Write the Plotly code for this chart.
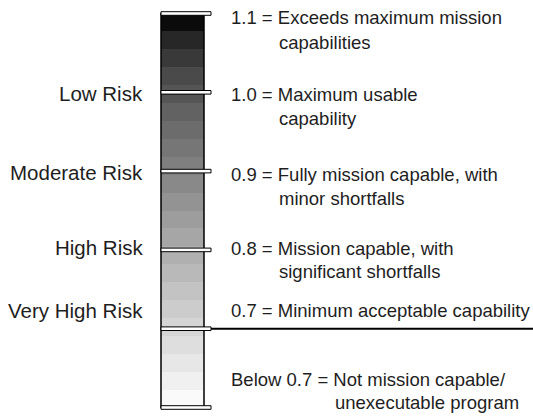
import plotly.graph_objects as go

# ---- data ----
levels = [1.1, 1.0, 0.9, 0.8, 0.7]
scale_bottom = 0.6
risk_labels = ["Low Risk", "Moderate Risk", "High Risk", "Very High Risk"]
level_text = [
    ("1.1 = ", "Exceeds maximum mission", "capabilities"),
    ("1.0 = ", "Maximum usable", "capability"),
    ("0.9 = ", "Fully mission capable, with", "minor shortfalls"),
    ("0.8 = ", "Mission capable, with", "significant shortfalls"),
    ("0.7 = ", "Minimum acceptable capability", None),
    ("Below 0.7 = ", "Not mission capable/", "unexecutable program"),
]
band_colors = [  # top to bottom
    "#0b0b0b", "#272727", "#393939", "#4a4a4a", "#555555", "#626262",
    "#6c6c6c", "#767676", "#7f7f7f", "#898989", "#939393", "#9d9d9d",
    "#a6a6a6", "#b0b0b0", "#b9b9b9", "#c3c3c3", "#cccccc", "#d5d5d5",
    "#dedede", "#e7e7e7", "#f0f0f0", "#fafafa",
]

# ---- layout constants ----
W, H = 533, 416
FONT = "Liberation Sans, Arial, Helvetica, sans-serif"
TXT = "#1e1e1e"
bar_x0, bar_x1, mark_x1 = 161, 204, 211
top_px, bot_px = 13.5, 407.5
span = (max(levels) - scale_bottom) * H / (bot_px - top_px)
ymax = max(levels) + top_px * (max(levels) - scale_bottom) / (bot_px - top_px)
ymin = ymax - span

n = len(band_colors)
h = (max(levels) - scale_bottom) / n
bases = [max(levels) - (i + 1) * h for i in range(n)]

fig = go.Figure()
fig.add_trace(go.Bar(
    x=[(bar_x0 + bar_x1) / 2] * n, y=[h] * n, base=bases,
    width=bar_x1 - bar_x0,
    marker=dict(color=band_colors, line=dict(width=0)),
    hoverinfo="skip", showlegend=False,
))

shapes = []
# bar outline
shapes.append(dict(type="rect", xref="x", yref="y", x0=bar_x0, x1=bar_x1,
                   y0=scale_bottom, y1=max(levels),
                   line=dict(color="black", width=1.5), fillcolor="rgba(0,0,0,0)"))
# 0.7 threshold line
shapes.append(dict(type="line", xref="x", yref="y", x0=mark_x1, x1=W,
                   y0=0.7, y1=0.7, line=dict(color="black", width=2)))
# level markers
dh = 1.8 * (ymax - ymin) / H
for v in levels + [scale_bottom]:
    shapes.append(dict(type="rect", xref="x", yref="y", x0=bar_x0, x1=mark_x1,
                       y0=v - dh, y1=v + dh,
                       line=dict(color="black", width=1), fillcolor="white"))

ann = []
def py(px):
    return 1 - px / H

left_y = [94, 172, 247, 310]
for lab, yy in zip(risk_labels, left_y):
    ann.append(dict(x=145, y=py(yy), xref="x", yref="paper", text=lab,
                    xanchor="right", yanchor="middle", showarrow=False,
                    font=dict(family=FONT, size=20.5, color=TXT)))

right_y = [(18, 43), (95, 118), (175, 198), (248, 271), (310, None), (379, 402)]
indent = [277, 277, 277, 277, 277, 333]
for (pre, l1, l2), (y1, y2), ind in zip(level_text, right_y, indent):
    ann.append(dict(x=229, y=py(y1), xref="x", yref="paper", text=pre + l1,
                    xanchor="left", yanchor="middle", showarrow=False,
                    font=dict(family=FONT, size=18.5, color=TXT)))
    if l2:
        ann.append(dict(x=ind, y=py(y2), xref="x", yref="paper", text=l2,
                        xanchor="left", yanchor="middle", showarrow=False,
                        font=dict(family=FONT, size=18.5, color=TXT)))

fig.update_layout(
    width=W, height=H, margin=dict(l=0, r=0, t=0, b=0),
    paper_bgcolor="white", plot_bgcolor="white",
    xaxis=dict(range=[0, W], visible=False, fixedrange=True),
    yaxis=dict(range=[ymin, ymax], visible=False, fixedrange=True),
    shapes=shapes, annotations=ann, bargap=0, barmode="overlay",
)
fig.write_html(
    "out.html",
    config={"displayModeBar": False},
    post_script="document.body.style.margin='0';document.body.style.overflow='hidden';",
)
